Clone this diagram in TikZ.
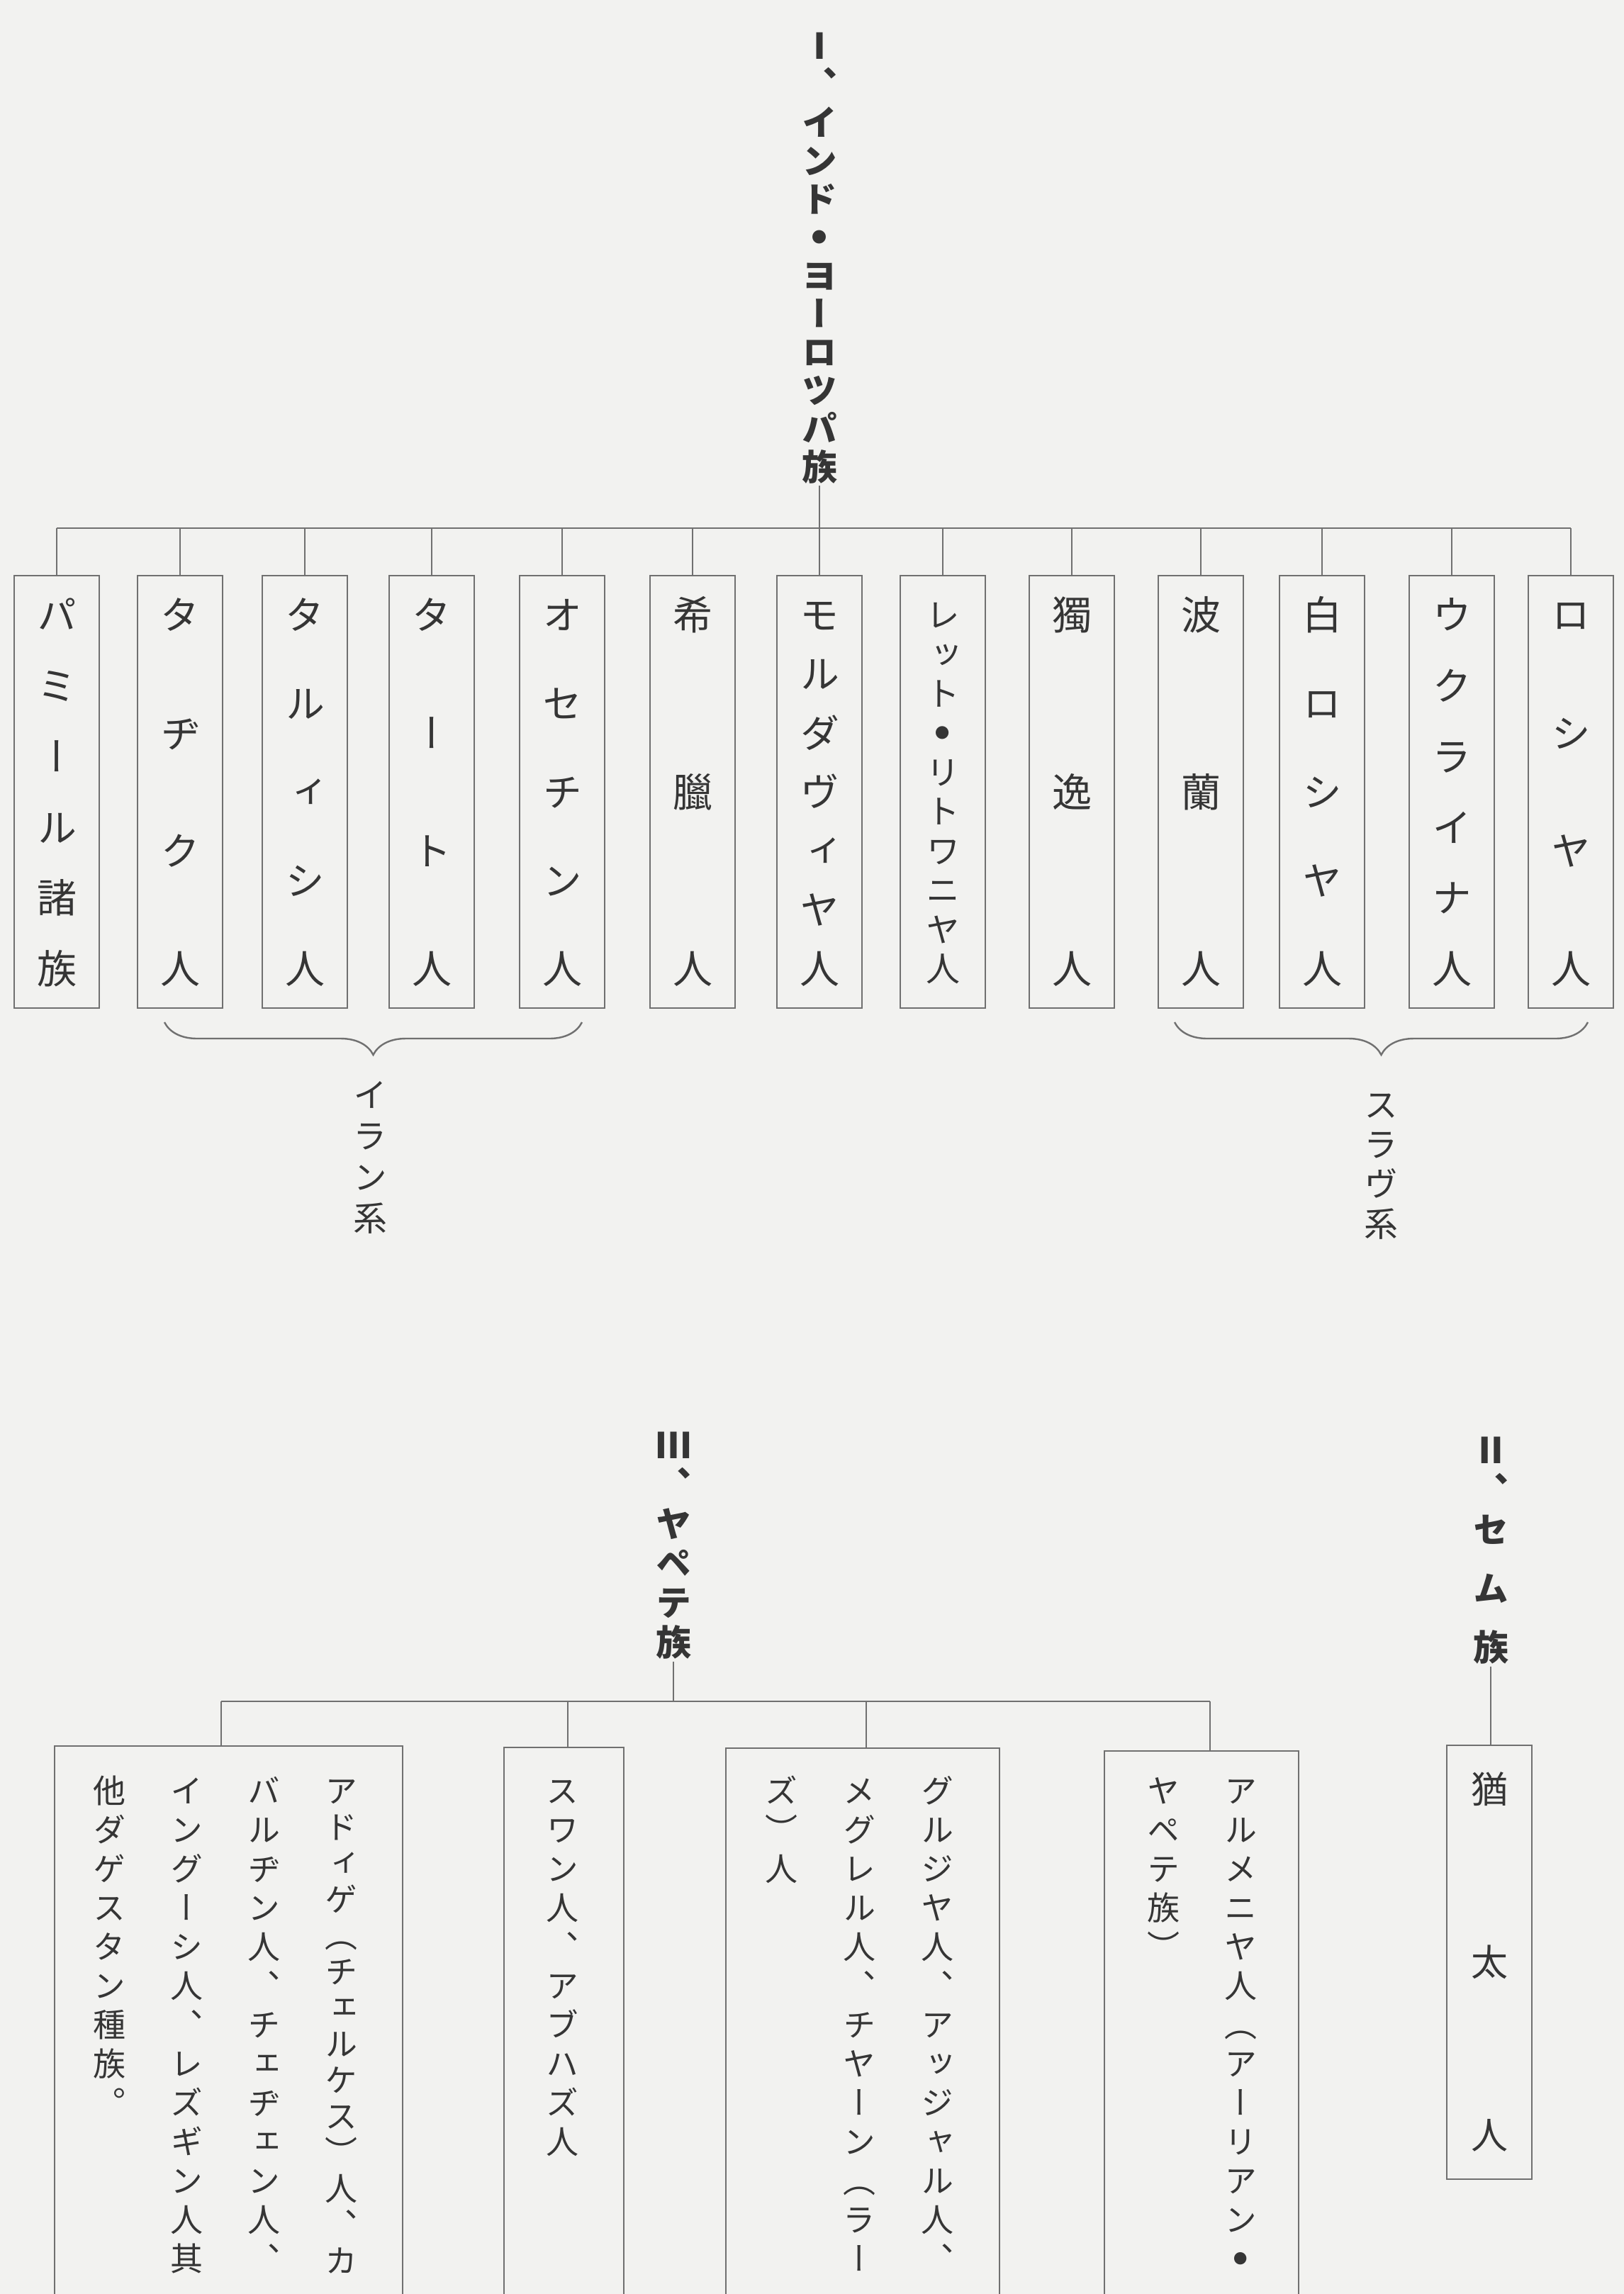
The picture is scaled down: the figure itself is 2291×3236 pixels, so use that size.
\documentclass[tikz,border=0pt]{standalone}
\usepackage{fontspec}
\usepackage{graphicx}
\usetikzlibrary{decorations.pathreplacing}
\newfontfamily\jp[RawFeature=+vert]{Noto Sans CJK JP}
\definecolor{paper}{HTML}{F2F2F0}
\definecolor{ink}{HTML}{353535}
\definecolor{rulec}{HTML}{707070}
\newdimen\vp
\def\vputg#1#2{\setbox0=\hbox to 0pt{\hss\lower\dimexpr #2+.38em\relax\hbox{#1}\hss}\ht0=0pt \dp0=0pt \box0\relax}
\def\vfull#1{\kern.5\vp\vputg{#1}{0pt}\kern.5\vp}
\def\vhtop#1{\vputg{#1}{.5em}\kern.5\vp}
\def\vhbot#1{\vputg{#1}{.5\vp-.5em}\kern.5\vp}
\def\vchar#1{\ifx#1︵\vhbot{#1}\else\ifx#1︶\vhtop{#1}\else\vfull{#1}\fi\fi}
\def\vloop#1{\ifx#1\relax\else\ifcat\noexpand#1\relax#1\else\vchar{#1}\fi\expandafter\vloop\fi}
\newcommand\vcol[2]{\vtop{\offinterlineskip\vp=#1\relax\vloop#2\relax}}
% centred column of zero size (its middle sits on the node centre)
\newcommand\vcolc[2]{\setbox2=\vcol{#1}{#2}\setbox2=\hbox{\raise.5\dp2\box2}\ht2=0pt \dp2=0pt \box2\relax}
\def\dotc{\vfull{\raisebox{.22em}{\scalebox{.42}{●}}}}
\def\vsk{\kern27pt}
\tikzset{
 ln/.style={draw=rulec, line width=2.4pt},
 tbox/.style={draw=rulec, line width=2.4pt, minimum width=120pt, minimum height=610pt, inner sep=0pt, text=ink, font=\jp\fontsize{56}{60}\selectfont},
 bbox/.style={draw=rulec, line width=2.4pt, inner sep=0pt},
 ttl/.style={inner sep=0pt, text=ink, font=\jp\bfseries\fontsize{50}{54}\selectfont, anchor=north},
 btxt/.style={inner sep=0pt, text=ink, font=\jp\fontsize{46}{50}\selectfont, anchor=north},
 lbl/.style={inner sep=0pt, text=ink, font=\jp\fontsize{48}{52}\selectfont, anchor=north},
 brc/.style={draw=rulec, line width=2.4pt, decorate, decoration={brace, mirror, amplitude=46pt}},
}
\begin{document}
\begin{tikzpicture}[x=1pt,y=-1pt]
\path[use as bounding box, fill=paper] (0,0) rectangle (2291,3236);
\clip (0,0) rectangle (2291,3236);
% ---------- I. Indo-European ----------
\coordinate (hl) at (0,745);
\node[ttl] (t1) at (1156,37) {\vcol{54pt}{Ⅰ、インド\dotc ヨーロツパ族}};
\node[tbox] (b1) at (80,1117) {\vcolc{99.8pt}{パミール諸族}};
\node[tbox] (b2) at (254,1117) {\vcolc{166.3pt}{タヂク人}};
\node[tbox] (b3) at (430,1117) {\vcolc{124.75pt}{タルィシ人}};
\node[tbox] (b4) at (609,1117) {\vcolc{166.3pt}{タート人}};
\node[tbox] (b5) at (793,1117) {\vcolc{124.75pt}{オセチン人}};
\node[tbox] (b6) at (977,1117) {\vcolc{249.5pt}{希臘人}};
\node[tbox] (b7) at (1156,1117) {\vcolc{83.17pt}{モルダヴィヤ人}};
\node[tbox, font=\jp\fontsize{48}{52}\selectfont] (b8) at (1330,1117) {\vcolc{55.44pt}{レット\dotc リトワニヤ人}};
\node[tbox] (b9) at (1512,1117) {\vcolc{249.5pt}{獨逸人}};
\node[tbox] (b10) at (1694,1117) {\vcolc{249.5pt}{波蘭人}};
\node[tbox] (b11) at (1865,1117) {\vcolc{124.75pt}{白ロシヤ人}};
\node[tbox] (b12) at (2048,1117) {\vcolc{99.8pt}{ウクライナ人}};
\node[tbox] (b13) at (2216,1117) {\vcolc{166.3pt}{ロシヤ人}};
\draw[ln] (t1.south) -- (t1.south |- hl);
\draw[ln] (b1.north |- hl) -- (b13.north |- hl);
\foreach \b in {b1,b2,b3,b4,b5,b6,b7,b8,b9,b10,b11,b12,b13}
  \draw[ln] (\b.north) -- (\b.north |- hl);
\draw[brc] (232,1442) -- (821,1442);
\draw[brc] (1657,1442) -- (2240,1442);
\node[lbl] (iran) at (522,1515) {\vcol{58pt}{イラン系}};
\node[lbl] (slav) at (1948,1530) {\vcol{56pt}{スラヴ系}};
% ---------- III. Japhetic ----------
\coordinate (hl2) at (0,2400);
\node[ttl] (t3) at (950,2010) {\vcol{55.6pt}{Ⅲ、ヤペテ族}};
\node[bbox, minimum width=491pt, minimum height=797pt] (c1) at (322.5,2861.5) {};
\node[bbox, minimum width=169pt, minimum height=795pt] (c2) at (795.5,2862.5) {};
\node[bbox, minimum width=386pt, minimum height=794pt] (c3) at (1217,2863) {};
\node[bbox, minimum width=274pt, minimum height=790pt] (c4) at (1695,2865) {};
\coordinate (d1) at (312,2400);
\coordinate (d2) at (801,2400);
\coordinate (d3) at (1222,2400);
\coordinate (d4) at (1707,2400);
\draw[ln] (t3.south) -- (t3.south |- hl2);
\draw[ln] (d1) -- (d4);
\draw[ln] (d1) -- (d1 |- c1.north);
\draw[ln] (d2) -- (d2 |- c2.north);
\draw[ln] (d3) -- (d3 |- c3.north);
\draw[ln] (d4) -- (d4 |- c4.north);
\node[btxt] (x1) at (318,2498.5) {\vcol{55pt}{他ダゲスタン種族。}\hskip108.7pt\vcol{55pt}{イングーシ人、レズギン人其}\hskip108.7pt\vcol{55pt}{バルヂン人、チェヂェン人、}\hskip108.7pt\kern0pt\lower2pt\hbox{\vcol{51pt}{アドィゲ（チェルケス）人、カ}}};
\node[btxt] (x2) at (793,2498.5) {\vcol{55pt}{スワン人、アブハズ人}};
\node[btxt] (x3) at (1212,2498.5) {\vcol{55pt}{ズ）人}\hskip110pt\vcol{55pt}{メグレル人、チヤーン（ラー}\hskip110pt\vcol{55pt}{グルジヤ人、アッジャル人、}};
\node[btxt] (x4) at (1695.5,2498.5) {\vcol{55pt}{ヤペテ族）}\hskip109pt\vcol{55pt}{アルメニヤ人（アーリアン\dotc}};
% ---------- II. Semitic ----------
\node[ttl] (t2) at (2103,2017) {\vcol{56pt}{Ⅱ、セ\vsk ム\vsk 族}};
\node[tbox, minimum height=612pt, font=\jp\fontsize{52}{56}\selectfont] (c5) at (2101,2768) {\vcolc{244pt}{猶太人}};
\draw[ln] (t2.south) -- (t2.south |- c5.north);
\end{tikzpicture}
\end{document}
